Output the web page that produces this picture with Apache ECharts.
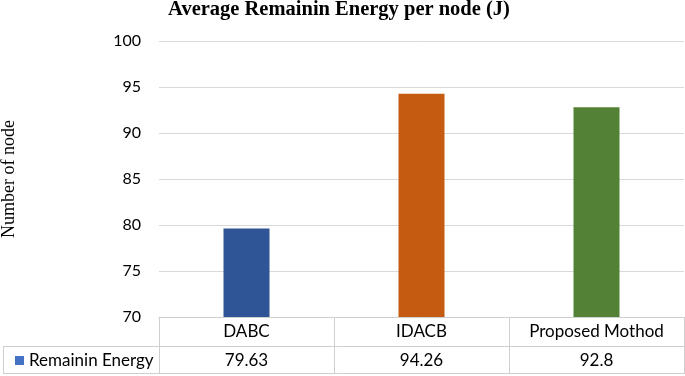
<!DOCTYPE html>
<html><head><meta charset="utf-8">
<script src="https://cdn.jsdelivr.net/npm/echarts@6/dist/echarts.min.js"></script>
<style>html,body{margin:0;padding:0;background:#fff}#c{width:685px;height:376px}</style>
</head><body><div id="c"></div>
<script>
const categories = ['DABC', 'IDACB', 'Proposed Mothod'];
const values = [79.63, 94.26, 92.8];
const valueLabels = ['79.63', '94.26', '92.8'];
const barColors = ['#2F5597', '#C55A11', '#538135'];
const seriesName = 'Remainin Energy';
const titleText = 'Average Remainin Energy per node (J)';
const yLabel = 'Number of node';

const chart = echarts.init(document.getElementById('c'), null, {renderer: 'canvas'});
const lineColor = '#cfcfcf';
const font = 'Lato, "Open Sans", sans-serif';
const serif = '"Liberation Serif", "Times New Roman", serif';
chart.setOption({
  animation: false,
  title: {text: titleText, left: 339, textAlign: 'center', top: -1, padding: 0,
    textStyle: {fontFamily: serif, fontWeight: 'bold', fontSize: 20.5, color: '#000'}},
  legend: {show: true, left: 15, top: 352, padding: 0, itemWidth: 9, itemHeight: 9,
    data: [{name: seriesName, icon: 'rect', itemStyle: {color: '#4472C4'}}],
    textStyle: {fontFamily: font, fontSize: 17, color: '#000'}},
  grid: {left: 159, right: 1, top: 41, bottom: 59, containLabel: false, outerBoundsMode: 'none'},
  xAxis: [{
    type: 'category', data: categories, position: 'bottom',
    axisLine: {show: true, lineStyle: {color: lineColor, width: 1}},
    axisTick: {show: true, interval: 0, length: 57, alignWithLabel: false, lineStyle: {color: lineColor}},
    axisLabel: {show: true, interval: 0, hideOverlap: false, margin: 5, fontFamily: font, fontSize: 17, color: '#000', lineHeight: 20}
  }, {
    type: 'category', data: categories, position: 'bottom', offset: 30,
    axisLine: {show: false}, axisTick: {show: false},
    axisLabel: {show: true, interval: 0, hideOverlap: false, margin: 4, fontFamily: font, fontSize: 17, color: '#000', lineHeight: 20,
      formatter: (v, i) => valueLabels[i]}
  }],
  yAxis: {
    type: 'value', min: 70, max: 100, interval: 5,
    name: yLabel, nameLocation: 'middle', nameGap: 141, nameRotate: 90,
    nameTextStyle: {fontFamily: serif, fontSize: 18, color: '#000'},
    axisLine: {show: false}, axisTick: {show: false},
    axisLabel: {fontFamily: font, fontSize: 16, color: '#000', margin: 18},
    splitLine: {show: true, lineStyle: {color: '#d9d9d9', width: 1}}
  },
  series: [{
    name: seriesName, type: 'bar', barWidth: 46, xAxisIndex: 0,
    data: values.map((v, i) => ({value: v, itemStyle: {color: barColors[i]}})),
    itemStyle: {color: '#4472C4'}
  }],
  graphic: [
    {type: 'line', shape: {x1: 3, y1: 346.5, x2: 684, y2: 346.5}, style: {stroke: lineColor, lineWidth: 1}},
    {type: 'line', shape: {x1: 3, y1: 373.5, x2: 684, y2: 373.5}, style: {stroke: lineColor, lineWidth: 1}},
    {type: 'line', shape: {x1: 3.5, y1: 346, x2: 3.5, y2: 374}, style: {stroke: lineColor, lineWidth: 1}}
  ]
});
</script></body></html>
